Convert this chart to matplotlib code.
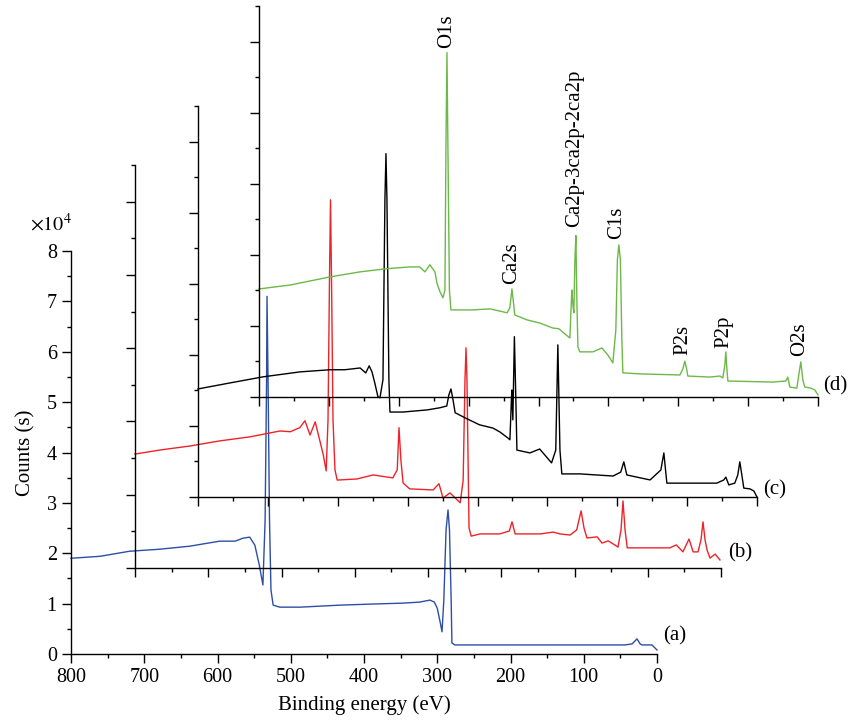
import matplotlib
matplotlib.use('Agg')
import matplotlib.pyplot as plt
from matplotlib.ticker import MultipleLocator

plt.rcParams['font.family'] = ['Liberation Serif', 'DejaVu Serif']
plt.rcParams['mathtext.fontset'] = 'stix'
plt.rcParams['font.size'] = 15

# binding energy (eV) / counts for the four spectra
ev_a = [800, 760, 720, 679, 638, 597, 576, 565, 556, 549, 543, 538, 535, 533, 532.4, 531, 529, 527, 524, 515,
        487, 433, 392, 347, 324, 310, 304, 300, 296, 293.5, 291, 288, 285.3, 283.3, 281, 280, 276, 255, 146, 44,
        34, 30, 27.3, 23, 20.5, 7, 0]
cnt_a = [1.90, 1.94, 2.04, 2.08, 2.14, 2.24, 2.24, 2.30, 2.32, 2.16, 1.77, 1.37, 2.66, 5.44, 7.10, 5.44, 2.66, 1.27, 0.97, 0.93,
         0.93, 0.97, 0.99, 1.01, 1.03, 1.07, 1.03, 0.91, 0.63, 0.44, 1.07, 2.46, 2.86, 2.46, 1.07, 0.22, 0.18, 0.18, 0.18, 0.18,
         0.20, 0.26, 0.30, 0.20, 0.18, 0.18, 0.08]

ev_b = [800, 766, 725, 684, 643, 602, 588, 575, 568, 561, 554, 547, 543, 539, 536.5, 534.5, 533.1, 531.7, 529.7, 527,
        524, 497, 475, 448, 442, 439.6, 437, 434, 425, 393, 385, 379.5, 370, 356, 352, 349.5, 348.1, 346.8, 344, 341,
        329, 302, 289, 285.3, 281, 247, 229, 220, 206, 197, 191, 187, 183, 169, 162.5, 154, 145, 140.6, 136.5, 133.8,
        131, 128, 101, 70, 61, 52, 43.7, 38, 31.4, 27.3, 24.6, 21.8, 19, 15, 8, 1.4]
cnt_b = [3.11, 3.22, 3.33, 3.47, 3.58, 3.74, 3.72, 3.83, 4.02, 3.63, 3.99, 3.42, 3.09, 2.65, 4.04, 7.87, 10.05, 7.87, 4.04, 2.68,
         2.40, 2.43, 2.54, 2.46, 2.68, 3.83, 2.95, 2.32, 2.16, 2.13, 2.30, 1.91, 2.05, 1.78, 2.40, 5.14, 6.01, 5.14, 1.09, 0.87,
         0.93, 0.93, 1.01, 1.26, 0.93, 0.93, 0.98, 0.93, 0.90, 1.04, 1.56, 1.09, 0.82, 0.85, 0.68, 0.74, 0.63, 0.57, 1.04, 1.83,
         1.04, 0.55, 0.55, 0.55, 0.63, 0.44, 0.79, 0.44, 0.44, 0.77, 1.26, 0.77, 0.49, 0.27, 0.38, 0.22]

ev_c = [800, 754, 707, 654, 611, 590, 568, 560, 555, 551, 547, 542.5, 539.6, 535.3, 532.5, 531, 529.6, 526.8, 525.3, 507,
        472, 454, 444, 441, 438, 435, 432, 415, 397, 378, 368, 356.5, 353.6, 351.5, 350.8, 349.4, 347.2, 345.1, 343.6, 325,
        311, 294, 288, 285, 282, 279.3, 253.5, 206, 195, 190.6, 186.3, 153, 137.6, 133.3, 129, 96, 57.5, 47.5, 44.6, 40.3,
        31.8, 27.5, 24.6, 21.7, 18.9, 10.3, 4.6, 0]
cnt_c = [3.04, 3.21, 3.38, 3.52, 3.58, 3.58, 3.63, 3.49, 3.69, 3.52, 3.21, 2.82, 2.79, 3.30, 8.37, 9.66, 8.37, 3.30, 2.39, 2.39,
         2.45, 2.51, 2.56, 2.87, 3.04, 2.73, 2.37, 2.20, 2.03, 1.94, 1.83, 1.66, 1.61, 2.73, 3.01, 2.17, 4.51, 2.73, 1.32, 1.24,
         1.35, 0.96, 1.32, 4.28, 1.32, 0.65, 0.65, 0.59, 0.70, 0.99, 0.62, 0.48, 0.76, 1.24, 0.39, 0.39, 0.39, 0.48, 0.56, 0.34,
         0.39, 0.62, 0.99, 0.62, 0.25, 0.23, 0.17, 0.0]

ev_d = [800, 755.6, 698, 655.5, 617, 584, 570, 562.5, 555.4, 548.2, 545.4, 541, 536.8, 533.9, 532.5, 531, 529.6, 527.5, 525.3, 494,
        469.5, 445, 441, 438, 435, 434, 416.6, 398, 379.4, 370.8, 363.7, 355.1, 352.9, 352.2, 350.8, 349.4, 347.9, 346.5, 345.1, 343.6,
        340.8, 322, 309.3, 300.7, 293.6, 289.3, 287.1, 285, 282.8, 280.7, 279.3, 255, 197.7, 193.4, 190.6, 187.7, 186.3, 154.8, 140.5, 136.2,
        133.3, 131.9, 130.5, 129, 64.7, 46.1, 43.2, 40.3, 30.3, 27.5, 24.6, 21.7, 18.9, 10.3, 4.6, 0]
cnt_d = [3.04, 3.15, 3.38, 3.52, 3.61, 3.66, 3.66, 3.52, 3.72, 3.52, 3.21, 2.96, 2.79, 3.01, 6.96, 9.69, 6.96, 3.01, 2.45, 2.45,
         2.48, 2.37, 2.51, 3.04, 2.51, 2.31, 2.17, 2.08, 1.94, 1.92, 1.80, 1.66, 2.73, 3.01, 2.59, 2.37, 3.86, 4.54, 2.73, 1.41,
         1.27, 1.27, 1.38, 1.18, 0.96, 1.89, 3.86, 4.28, 3.86, 1.61, 0.68, 0.65, 0.62, 0.79, 1.01, 0.76, 0.59, 0.56, 0.59, 0.54,
         0.90, 1.27, 0.82, 0.45, 0.42, 0.45, 0.56, 0.28, 0.25, 0.62, 0.99, 0.48, 0.28, 0.25, 0.20, 0.06]

# peak labels on spectrum (d)
peak_names = ['O1s', 'Ca2s', 'Ca2p-3ca2p-2ca2p', 'C1s', 'P2s', 'P2p', 'O2s']
peak_ev = [531, 438, 348, 288, 193, 135, 26]
peak_lab_y = [9.83, 3.18, 4.79, 4.45, 1.18, 1.38, 1.15]

curve_tags = ['(a)', '(b)', '(c)', '(d)']
colors = ['#2d4ea5', '#ee2328', '#000000', '#6cb947']

W, H = 855, 727
fig = plt.figure(figsize=(W / 100, H / 100), dpi=100)


def box(l, t, r, b):
    return [l / W, 1 - b / H, (r - l) / W, (b - t) / H]


# pixel boxes of the four staggered axes
boxes = [(71, 251, 657, 654), (135, 165, 721, 568), (198, 106, 757, 497), (259, 6, 818, 397)]
ylims = [8, 11, 11, 11]
data = [(ev_a, cnt_a), (ev_b, cnt_b), (ev_c, cnt_c), (ev_d, cnt_d)]
tag_pos = [(-8, 0.36), (-9.6, 0.41), (-8.3, 0.2), (-6.9, 0.31)]

axes = []
for i in range(4):
    ax = fig.add_axes(box(*boxes[i]))
    ax.patch.set_alpha(0)
    ax.set_xlim(800, 0)
    ax.set_ylim(0, ylims[i])
    ax.spines['top'].set_visible(False)
    ax.spines['right'].set_visible(False)
    ax.spines['left'].set_linewidth(1.0)
    ax.spines['bottom'].set_linewidth(1.0)
    ax.xaxis.set_major_locator(MultipleLocator(100))
    ax.xaxis.set_minor_locator(MultipleLocator(50))
    if i == 0:
        ax.yaxis.set_major_locator(MultipleLocator(1))
        ax.yaxis.set_minor_locator(MultipleLocator(0.5))
    else:
        ax.yaxis.set_major_locator(MultipleLocator(2))
        ax.yaxis.set_minor_locator(MultipleLocator(1))
        ax.tick_params(labelleft=False, labelbottom=False)
    ax.tick_params(which='major', direction='out', length=6.7, width=1.0, labelsize=14.5)
    ax.tick_params(which='minor', direction='out', length=3.2, width=1.0)
    x, y = data[i]
    ax.plot(x, y, color=colors[i], lw=1.0, clip_on=False)
    ax.text(tag_pos[i][0], tag_pos[i][1], curve_tags[i], ha='left', va='center', fontsize=15, clip_on=False)
    axes.append(ax)

ax_a = axes[0]
ax_a.set_xlabel('Binding energy (eV)', fontsize=15, labelpad=6)
ax_a.set_ylabel('Counts (s)', fontsize=15, labelpad=8)
ax_a.text(-0.07, 1.065, r'$\times10^4$', transform=ax_a.transAxes, ha='left', va='center', fontsize=14.5)

ax_d = axes[3]
for name, e, yy in zip(peak_names, peak_ev, peak_lab_y):
    ax_d.text(e, yy, name, rotation=90, ha='center', va='bottom', fontsize=15, clip_on=False)

fig.savefig('out.png', dpi=100)
